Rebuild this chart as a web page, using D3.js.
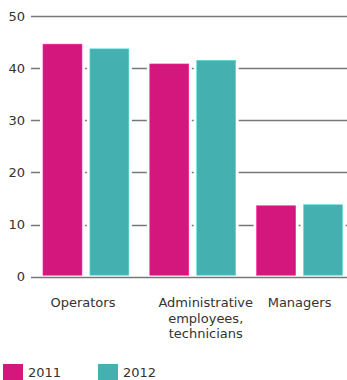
<!DOCTYPE html>
<html>
<head>
<meta charset="utf-8">
<script src="https://cdn.jsdelivr.net/npm/d3@7/dist/d3.min.js"></script>
<style>
  html, body { margin: 0; padding: 0; background: #fff; }
  svg { display: block; font-family: "DejaVu Sans", sans-serif; }
</style>
</head>
<body>
<div id="chart"></div>
<script>
// Staff by category, 2011 vs 2012
const categories = ["Operators", "Administrative employees, technicians", "Managers"];
const categoryLines = [["Operators"], ["Administrative", "employees,", "technicians"], ["Managers"]];
const years = ["2011", "2012"];
const values2011 = [44.6, 40.8, 13.6];
const values2012 = [43.7, 41.5, 13.8];
const yTicks = [0, 10, 20, 30, 40, 50];
const colors = ["#d4177d", "#44b1b0"];

const width = 347, height = 380;
const svg = d3.select("#chart").append("svg")
  .attr("width", width).attr("height", height);

const y = d3.scaleLinear().domain([0, 50]).range([276.7, 16]);
const x0 = d3.scaleBand().domain(categories).range([43, 342.5])
  .paddingInner(0.196).paddingOuter(0);
const x1 = d3.scaleBand().domain(years).range([0, x0.bandwidth()]).paddingInner(0.17);

// grid lines with short ticks on the left
const grid = svg.append("g");
grid.selectAll("line").data(yTicks).join("line")
  .attr("x1", 31).attr("x2", width)
  .attr("y1", d => Math.round(y(d)) + 0.5).attr("y2", d => Math.round(y(d)) + 0.5)
  .attr("stroke", "#777").attr("stroke-width", 1.4);

grid.selectAll("text").data(yTicks).join("text")
  .attr("x", 25).attr("y", d => y(d) + 4.7)
  .attr("text-anchor", "end")
  .attr("font-size", 13).attr("fill", "#333")
  .text(d => d);

const series = years.map((yr, i) => ({ year: yr, values: i === 0 ? values2011 : values2012 }));
const bars = [];
series.forEach((s, si) => {
  categories.forEach((c, ci) => bars.push({ cat: c, year: s.year, v: s.values[ci], si }));
});

const barG = svg.append("g");
// white halo around each bar hides the grid lines
barG.selectAll("rect.halo").data(bars).join("rect")
  .attr("class", "halo")
  .attr("x", d => x0(d.cat) + x1(d.year) - 3)
  .attr("width", x1.bandwidth() + 6)
  .attr("y", d => y(d.v) - 3)
  .attr("height", d => y(0) - y(d.v) + 2)
  .attr("fill", "#fff");

barG.selectAll("rect.bar").data(bars).join("rect")
  .attr("class", "bar")
  .attr("x", d => x0(d.cat) + x1(d.year))
  .attr("width", x1.bandwidth())
  .attr("y", d => y(d.v))
  .attr("height", d => y(0) - 1.5 - y(d.v))
  .attr("fill", d => colors[d.si])
  .attr("stroke", d => d3.color(colors[d.si]).brighter(0.6))
  .attr("stroke-width", 0.6);

// category labels
const labelShift = [-3, 13, 0];
const lab = svg.append("g").attr("font-size", 13).attr("fill", "#333");
categories.forEach((c, i) => {
  const t = lab.append("text")
    .attr("text-anchor", "middle")
    .attr("x", x0(c) + x0.bandwidth() / 2 + labelShift[i])
    .attr("y", 307);
  categoryLines[i].forEach((line, li) => {
    t.append("tspan")
      .attr("x", x0(c) + x0.bandwidth() / 2 + labelShift[i])
      .attr("dy", li === 0 ? 0 : 15.7)
      .text(line);
  });
});

// legend
const legendX = [3, 98];
const leg = svg.append("g");
years.forEach((yr, i) => {
  leg.append("rect").attr("x", legendX[i]).attr("y", 364)
    .attr("width", 20).attr("height", 16).attr("fill", colors[i]);
  leg.append("text").attr("x", legendX[i] + 25).attr("y", 377)
    .attr("font-size", 13).attr("fill", "#333").text(yr);
});
</script>
</body>
</html>
